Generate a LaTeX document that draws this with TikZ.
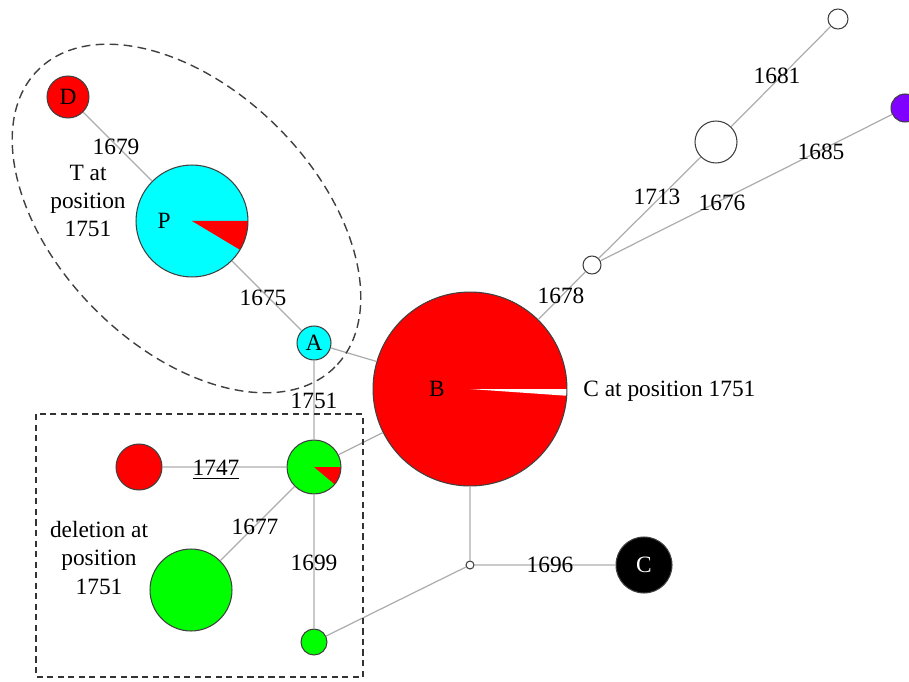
\documentclass[tikz,border=0pt]{standalone}
\usepackage{fontspec}
\setmainfont{Liberation Serif}
\definecolor{hapred}{rgb}{1,0,0}
\definecolor{hapcyan}{rgb}{0,1,1}
\definecolor{hapgreen}{rgb}{0,1,0}
\definecolor{happurple}{rgb}{0.5,0,1}
\definecolor{linkgray}{gray}{0.68}

\begin{document}
\begin{tikzpicture}[x=0.02cm,y=-0.02cm,font=\fontsize{13.3}{16}\selectfont,
	hap/.style={circle,draw=black!75,line width=0.6pt,inner sep=0pt,minimum size=#1*0.04cm},
	link/.style={draw=linkgray,line width=0.7pt},
	lbl/.style={inner sep=0pt,align=center},
	wedge/.style 2 args={path picture={\fill[#1] (path picture bounding box.center) -- ++(0:150) arc[start angle=0,end angle=#2,radius=150] -- cycle;}}]
	\clip (0,0) rectangle (909,682);
	% haplotypes
	\node[hap=21,fill=hapred] (D) at (68,97) {D};
	\node[hap=56,fill=hapcyan,wedge={hapred}{31},label={[xshift=-0.56cm]center:P}] (P) at (192,221) {};
	\node[hap=17,fill=hapcyan] (A) at (314,343) {A};
	\node[hap=97,fill=hapred,wedge={white}{4},label={[xshift=-0.66cm]center:B}] (B) at (470,389) {};
	\node[hap=27,fill=hapgreen,wedge={hapred}{40}] (G1) at (314,467) {};
	\node[hap=23,fill=hapred] (R2) at (139,467) {};
	\node[hap=41,fill=hapgreen] (G2) at (191,590) {};
	\node[hap=13,fill=hapgreen] (G3) at (314,642) {};
	\node[hap=4,fill=white] (M) at (470,565) {};
	\node[hap=28,fill=black,text=white] (C) at (644,565) {C};
	\node[hap=9,fill=white] (W1) at (592,265) {};
	\node[hap=21,fill=white] (W2) at (716,142) {};
	\node[hap=10,fill=white] (W3) at (838,19) {};
	\node[hap=14,fill=happurple] (V) at (905,108) {};
	% links
	\draw[link] (D) -- (P) (P) -- (A) (A) -- (B) (A) -- (G1) (G1) -- (R2) (G1) -- (G2) (G1) -- (G3) (G1) -- (B)
		(B) -- (W1) (W1) -- (W2) (W2) -- (W3) (W1) -- (V) (B) -- (M) (M) -- (C) (M) -- (G3);
	% mutations
	\node[lbl] (m1679) at (116,147) {1679};
	\node[lbl] (m1675) at (263,298) {1675};
	\node[lbl] (m1751) at (314,401) {1751};
	\node[lbl] (m1747) at (216,470) {\underline{1747}};
	\node[lbl] (m1677) at (255,527) {1677};
	\node[lbl] (m1699) at (314,563) {1699};
	\node[lbl] (m1696) at (550,565) {1696};
	\node[lbl] (m1678) at (561,296) {1678};
	\node[lbl] (m1713) at (657,197) {1713};
	\node[lbl] (m1676) at (722,203) {1676};
	\node[lbl] (m1685) at (821,152) {1685};
	\node[lbl] (m1681) at (777,76) {1681};
	\node[lbl] (tpos) at (88,201) {T at\\position\\1751};
	\node[lbl] (delpos) at (99,558) {deletion at\\position\\1751};
	\node[lbl,anchor=west] (cpos) at (583,391) {C at position 1751};
	% groups
	\draw[black!75,line width=0.8pt,dash pattern=on 5pt off 3pt,rotate around={-45:(186.5,218.5)}] (186.5,218.5) ellipse [x radius=210,y radius=129];
	\draw[black!80,line width=0.9pt,dash pattern=on 3.5pt off 2.5pt] (36,414) rectangle (363,677);
\end{tikzpicture}
\end{document}
